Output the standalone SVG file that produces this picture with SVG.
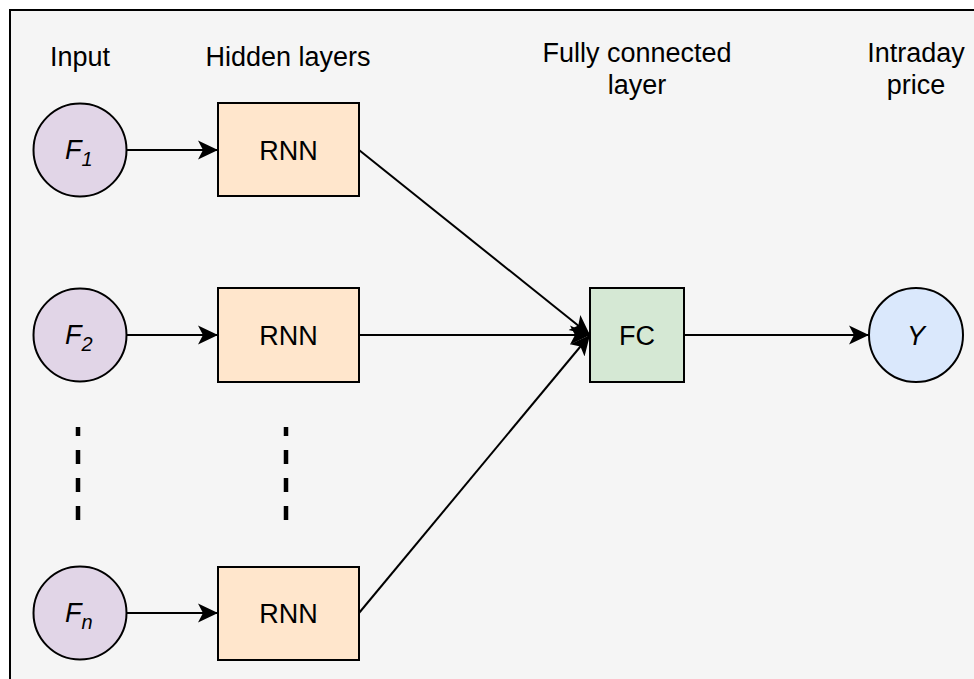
<svg xmlns="http://www.w3.org/2000/svg" width="974" height="679" viewBox="0 0 974 679">
  <style>
    text { font-family: "Liberation Sans", Arial, sans-serif; fill: #000; }
    .lbl { font-size: 27px; text-anchor: middle; }
    .var { font-size: 27px; font-style: italic; }
    .sub { font-size: 20px; }
    .in { fill: #e1d5e7; stroke: #000; stroke-width: 2; }
    .rnn { fill: #ffe6cc; stroke: #000; stroke-width: 2; }
    .fc { fill: #d5e8d4; stroke: #000; stroke-width: 2; }
    .out { fill: #dae8fc; stroke: #000; stroke-width: 2; }
    .edge { fill: none; stroke: #000; stroke-width: 2; marker-end: url(#arrow); }
    .dots { stroke: #000; stroke-width: 4.5; stroke-dasharray: 14 14; stroke-dashoffset: 5; }
  </style>
  <defs>
    <marker id="arrow" viewBox="0 0 20 20" refX="20" refY="10" markerWidth="20" markerHeight="20" markerUnits="userSpaceOnUse" orient="auto">
      <path d="M20,10 L0,0.5 L5,10 L0,19.5 Z" fill="#000"/>
    </marker>
  </defs>

  <!-- panel -->
  <rect x="0" y="0" width="974" height="679" fill="#fff"/>
  <rect x="10" y="10" width="1000" height="1000" fill="#f5f5f5" stroke="#000" stroke-width="2"/>

  <!-- column headings -->
  <g id="headings">
    <text class="lbl" x="80" y="66">Input</text>
    <text class="lbl" x="288" y="66">Hidden layers</text>
    <text class="lbl" x="637" y="62">Fully connected</text>
    <text class="lbl" x="637" y="94">layer</text>
    <text class="lbl" x="916" y="62">Intraday</text>
    <text class="lbl" x="916" y="94">price</text>
  </g>

  <!-- connectors -->
  <g id="connectors">
    <line class="edge" x1="127" y1="150" x2="218" y2="150"/>
    <line class="edge" x1="127" y1="335" x2="218" y2="335"/>
    <line class="edge" x1="127" y1="613" x2="218" y2="613"/>
    <line class="edge" x1="359" y1="150" x2="590" y2="335"/>
    <line class="edge" x1="359" y1="335" x2="590" y2="335"/>
    <line class="edge" x1="359" y1="613" x2="590" y2="335"/>
    <line class="edge" x1="684" y1="335" x2="869" y2="335"/>
  </g>

  <!-- inputs -->
  <g id="input-f1">
    <circle class="in" cx="80" cy="150" r="46.5"/>
    <text x="65" y="159"><tspan class="var">F</tspan><tspan class="var sub" dy="7">1</tspan></text>
  </g>
  <g id="input-f2">
    <circle class="in" cx="80" cy="335" r="46.5"/>
    <text x="65" y="344"><tspan class="var">F</tspan><tspan class="var sub" dy="7">2</tspan></text>
  </g>
  <g id="input-fn">
    <circle class="in" cx="80" cy="613" r="46.5"/>
    <text x="65" y="622"><tspan class="var">F</tspan><tspan class="var sub" dy="7">n</tspan></text>
  </g>

  <!-- hidden layers -->
  <g id="rnn-1">
    <rect class="rnn" x="218" y="103" width="141" height="93"/>
    <text class="lbl" x="288.5" y="159.5">RNN</text>
  </g>
  <g id="rnn-2">
    <rect class="rnn" x="218" y="288" width="141" height="94"/>
    <text class="lbl" x="288.5" y="344.5">RNN</text>
  </g>
  <g id="rnn-n">
    <rect class="rnn" x="218" y="567" width="141" height="93"/>
    <text class="lbl" x="288.5" y="623">RNN</text>
  </g>

  <!-- ellipsis marks -->
  <g id="ellipsis">
    <line class="dots" x1="78" y1="427" x2="78" y2="520"/>
    <line class="dots" x1="286" y1="427" x2="286" y2="520"/>
  </g>

  <!-- fully connected -->
  <g id="fc">
    <rect class="fc" x="590" y="288" width="94" height="94"/>
    <text class="lbl" x="637" y="344.5">FC</text>
  </g>

  <!-- output -->
  <g id="output-y">
    <circle class="out" cx="916" cy="335" r="47"/>
    <text class="var" x="916" y="344.5" text-anchor="middle">Y</text>
  </g>
</svg>
